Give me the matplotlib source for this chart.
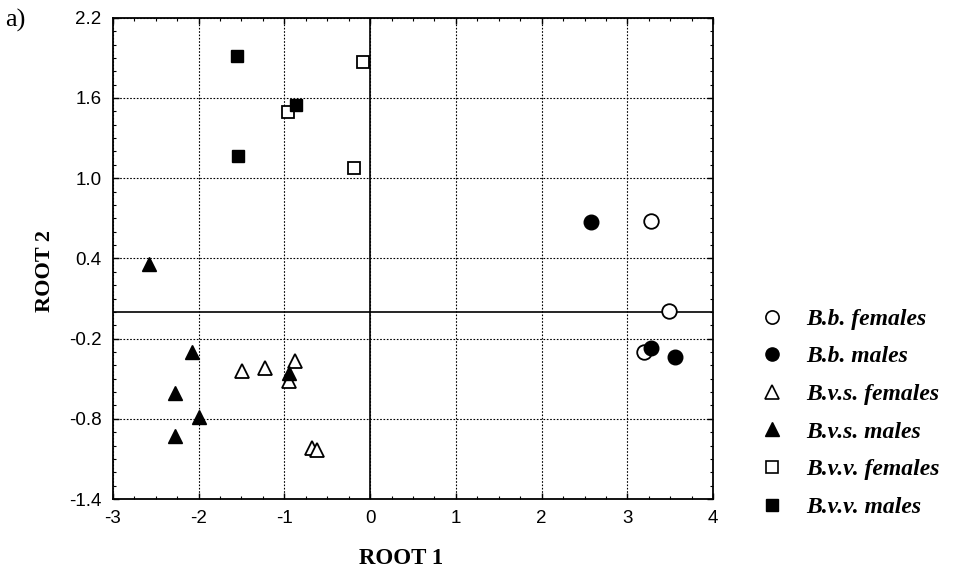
import matplotlib
matplotlib.use("Agg")
import matplotlib.pyplot as plt
from matplotlib.ticker import MultipleLocator
from matplotlib.lines import Line2D

plt.rcParams["axes.unicode_minus"] = False

# discriminant scores
bb_f_x = [3.27, 3.49, 3.19]
bb_f_y = [0.68, 0.01, -0.30]
bb_m_x = [2.58, 3.27, 3.56]
bb_m_y = [0.67, -0.27, -0.335]
bvs_f_x = [-1.49, -1.22, -0.88, -0.94, -0.68, -0.62]
bvs_f_y = [-0.44, -0.42, -0.37, -0.515, -1.02, -1.03]
bvs_m_x = [-2.58, -2.08, -2.28, -1.99, -2.28, -0.94]
bvs_m_y = [0.355, -0.30, -0.61, -0.785, -0.93, -0.46]
bvv_f_x = [-0.08, -0.96, -0.19]
bvv_f_y = [1.87, 1.495, 1.08]
bvv_m_x = [-1.55, -1.54, -0.86]
bvv_m_y = [1.915, 1.165, 1.55]

labels = ["B.b. females", "B.b. males", "B.v.s. females",
          "B.v.s. males", "B.v.v. females", "B.v.v. males"]
yticks = [-1.4, -0.8, -0.2, 0.4, 1.0, 1.6, 2.2]

fig = plt.figure(figsize=(9.56, 5.73), dpi=100)
ax = fig.add_axes([0.118, 0.129, 0.628, 0.840])

ax.set_xlim(-3, 4)
ax.set_ylim(-1.4, 2.2)
ax.xaxis.set_major_locator(MultipleLocator(1))
ax.xaxis.set_minor_locator(MultipleLocator(0.25))
ax.yaxis.set_minor_locator(MultipleLocator(0.1))
ax.set_yticks(yticks)
ax.set_yticklabels([f"{v:.1f}" for v in yticks])
ax.grid(True, which="major", linestyle=(0, (1.5, 1.5)), color="black", linewidth=0.8)
ax.axhline(0, color="black", linewidth=1.2)
ax.axvline(0, color="black", linewidth=1.2)

ax.tick_params(which="both", direction="in", top=True, right=True)
ax.tick_params(which="major", length=4, width=1, labelsize=13.5, pad=8,
               labelfontfamily="Liberation Sans")
ax.tick_params(which="minor", length=2.5, width=0.8)
for s in ax.spines.values():
    s.set_linewidth(1.3)

ms = 10.5
ax.plot(bb_f_x, bb_f_y, "o", ms=ms, mfc="white", mec="black", mew=1.3, ls="none")
ax.plot(bb_m_x, bb_m_y, "o", ms=ms, mfc="black", mec="black", ls="none")
ax.plot(bvs_f_x, bvs_f_y, "^", ms=ms, mfc="white", mec="black", mew=1.3, ls="none")
ax.plot(bvs_m_x, bvs_m_y, "^", ms=ms, mfc="black", mec="black", ls="none")
ax.plot(bvv_f_x, bvv_f_y, "s", ms=9, mfc="white", mec="black", mew=1.3, ls="none")
ax.plot(bvv_m_x, bvv_m_y, "s", ms=9, mfc="black", mec="black", ls="none")

ax.set_xlabel("ROOT 1", fontfamily="Liberation Serif", fontweight="bold", fontsize=16.5)
ax.set_ylabel("ROOT 2", fontfamily="Liberation Serif", fontweight="bold", fontsize=16)
ax.xaxis.set_label_coords(0.48, -0.123)
ax.xaxis.label.set_va("center")
ax.yaxis.set_label_coords(-0.113, 0.473)
ax.yaxis.label.set_va("center")

handles = [
    Line2D([], [], marker="o", ls="none", ms=9.5, mfc="white", mec="black", mew=1.2),
    Line2D([], [], marker="o", ls="none", ms=9.5, mfc="black", mec="black"),
    Line2D([], [], marker="^", ls="none", ms=9.5, mfc="white", mec="black", mew=1.2),
    Line2D([], [], marker="^", ls="none", ms=9.5, mfc="black", mec="black"),
    Line2D([], [], marker="s", ls="none", ms=9, mfc="white", mec="black", mew=1.2),
    Line2D([], [], marker="s", ls="none", ms=9, mfc="black", mec="black"),
]
fig.legend(handles, labels, loc="upper left", bbox_to_anchor=(0.773, 0.499),
           frameon=False, handlelength=1.0, handletextpad=0.94, labelspacing=0.68,
           prop={"family": "Liberation Serif", "weight": "bold",
                 "style": "italic", "size": 17})

fig.text(0.005, 0.965, "a)", fontfamily="Liberation Serif", fontsize=19,
         va="center", ha="left")

fig.savefig("out.png", dpi=100)
